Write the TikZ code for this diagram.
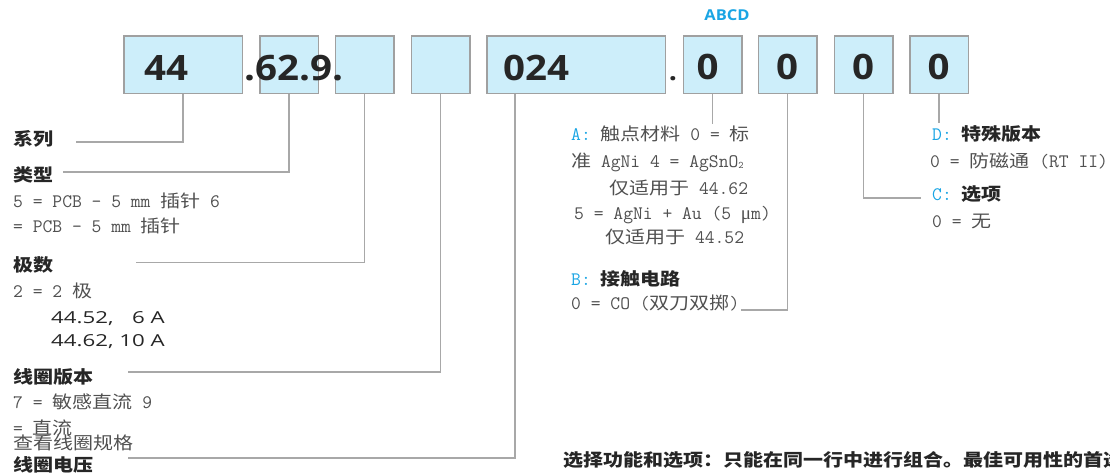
\documentclass[tikz,border=0pt]{standalone}
\usepackage{fontspec}
\newfontfamily\cjkf{Noto Sans CJK SC}[FakeStretch=1.15]
\newfontfamily\monof{Latin Modern Mono}
\newfontfamily\serf{Liberation Serif}
\newfontfamily\numf{Open Sans}[FakeStretch=1.1]
\newfontfamily\sansf{Open Sans}[FakeStretch=1.35]
\definecolor{boxfill}{RGB}{205,238,250}
\definecolor{boxline}{RGB}{160,160,160}
\definecolor{connc}{RGB}{168,168,168}
\definecolor{dark}{RGB}{38,38,38}
\definecolor{greyt}{RGB}{80,80,80}
\definecolor{bluet}{RGB}{26,165,228}
\newcommand\cj[1]{{\cjkf\fontsize{17.4pt}{20pt}\selectfont #1}}
\newcommand\cjb[1]{{\cjkf\bfseries\fontsize{17.4pt}{20pt}\selectfont\color{dark}#1}}
\newcommand\bl[1]{{\color{bluet}#1}}
\begin{document}
\begin{tikzpicture}[x=1pt,y=-1pt,
  bx/.style={draw=boxline, line width=1.5pt, fill=boxfill, inner sep=0, minimum height=57.5pt},
  connl/.style={draw=connc, line width=1.3pt},
  num/.style={font=\numf\bfseries\fontsize{35pt}{35pt}\selectfont, text=dark, inner sep=0},
  lbl/.style={font=\cjkf\bfseries\fontsize{17.4pt}{20pt}\selectfont, text=dark, anchor=base west, inner sep=0},
  gl/.style={font=\monof\fontsize{19.05pt}{20pt}\selectfont, text=greyt, anchor=base west, inner sep=0},
  sn/.style={font=\sansf\fontsize{16.5pt}{20pt}\selectfont, text=dark, anchor=base west, inner sep=0}]
\useasboundingbox (0,0) rectangle (1110,472);
% boxes
\node[bx, minimum width=118.5pt] (b1) at (183,64.5) {};
\node[bx, minimum width=58.5pt] (b2) at (289,64.5) {};
\node[bx, minimum width=58.5pt] (b3) at (364.5,64.5) {};
\node[bx, minimum width=58.5pt] (b4) at (440.5,64.5) {};
\node[bx, minimum width=178.5pt] (b5) at (576,64.5) {};
\node[bx, minimum width=58.5pt] (b6) at (712.5,64.5) {};
\node[bx, minimum width=58.5pt] (b7) at (787.5,64.5) {};
\node[bx, minimum width=58.5pt] (b8) at (863.5,64.5) {};
\node[bx, minimum width=58.5pt] (b9) at (939,64.5) {};
% numbers
\node[num, anchor=base west] (t1) at (144,80) {44};
\node[num, anchor=base west] (t2) at (244,80) {.62.9.};
\node[num, anchor=base west] (t5) at (503,80) {024};
\node[num, anchor=base, font=\numf\bfseries\fontsize{26pt}{26pt}\selectfont] (tdot) at (673,80) {.};
\node[num, anchor=base] (t6) at (707.5,79.5) {0};
\node[num, anchor=base] (t7) at (787,79.5) {0};
\node[num, anchor=base] (t8) at (863,79.5) {0};
\node[num, anchor=base] (t9) at (938.5,79.5) {0};
\node[num, anchor=base, font=\numf\bfseries\fontsize{15pt}{15pt}\selectfont, text=bluet] (abcd) at (727,20.7) {ABCD};
% connectors
\coordinate (c1) at (76,142);
\coordinate (c2) at (63,172);
\coordinate (c3) at (136,262.5);
\coordinate (c4) at (128,372);
\coordinate (s5) at ([xshift=-61pt]b5.south);
\coordinate (c5) at (128,458);
\coordinate (c6) at (712.5,124);
\coordinate (c7) at (741,310);
\coordinate (c8) at (921,198);
\coordinate (c9) at (939,123);
\draw[connl] (b1.south) |- (c1);
\draw[connl] (b2.south) |- (c2);
\draw[connl] (b3.south) |- (c3);
\draw[connl] (b4.south) |- (c4);
\draw[connl] (s5) |- (c5);
\draw[connl] (b6.south) -- (c6);
\draw[connl] (b7.south) |- (c7);
\draw[connl] (b8.south) |- (c8);
\draw[connl] (b9.south) -- (c9);
% left texts
\node[lbl] (l1) at (13,145.6) {系列};
\node[lbl] (l2) at (13,181.6) {类型};
\node[gl] (g2a) at (13,207.3) {5 = PCB – 5 mm \cj{插针} 6};
\node[gl] (g2b) at (13,232.7) {= PCB – 5 mm \cj{插针}};
\node[lbl] (l3) at (13,271.6) {极数};
\node[gl] (g3a) at (13,297.3) {2 = 2 \cj{极}};
\node[sn] (g3b) at (51,323.3) {44.52, \phantom{1}6 A};
\node[sn] (g3c) at (51,346.7) {44.62, 10 A};
\node[lbl] (l4) at (13,383.3) {线圈版本};
\node[gl] (g4a) at (13,408) {7 = \cj{敏感直流} 9};
\node[gl] (g4b) at (13,434) {= \cj{直流}};
\node[lbl, font=\cjkf\fontsize{17.4pt}{20pt}\selectfont, text=greyt] (g4c) at (13,449.6) {查看线圈规格};
\node[lbl] (l5) at (13,471.6) {线圈电压};
% right texts
\node[gl] (ra1) at (571,140.7) {\bl{A:} \cj{触点材料} 0 = \cj{标}};
\node[gl] (ra2) at (571,167.3) {\cj{准} AgNi 4 = AgSnO\raisebox{-1.5pt}{\fontsize{10pt}{10pt}\selectfont 2}};
\node[gl] (ra3) at (609,194.7) {\cj{仅适用于} 44.62};
\node[gl] (ra4) at (574,219.3) {5 = AgNi + Au (5 {\serf μ}m)};
\node[gl] (ra5) at (605,243.3) {\cj{仅适用于} 44.52};
\node[gl] (rb1) at (571,285) {\bl{B:} \cjb{接触电路}};
\node[gl] (rb2) at (571,309.3) {0 = CO (\cj{双刀双掷})};
\node[gl] (rd1) at (932,140.7) {\bl{D:} \cjb{特殊版本}};
\node[gl] (rd2) at (930,167) {0 = \cj{防磁通} (RT II)};
\node[gl] (rc1) at (932,200.7) {\bl{C:} \cjb{选项}};
\node[gl] (rc2) at (932,227.3) {0 = \cj{无}};
% bottom note
\node[lbl] (note) at (563,466.5) {选择功能和选项：只能在同一行中进行组合。最佳可用性的首选};
\end{tikzpicture}
\end{document}
